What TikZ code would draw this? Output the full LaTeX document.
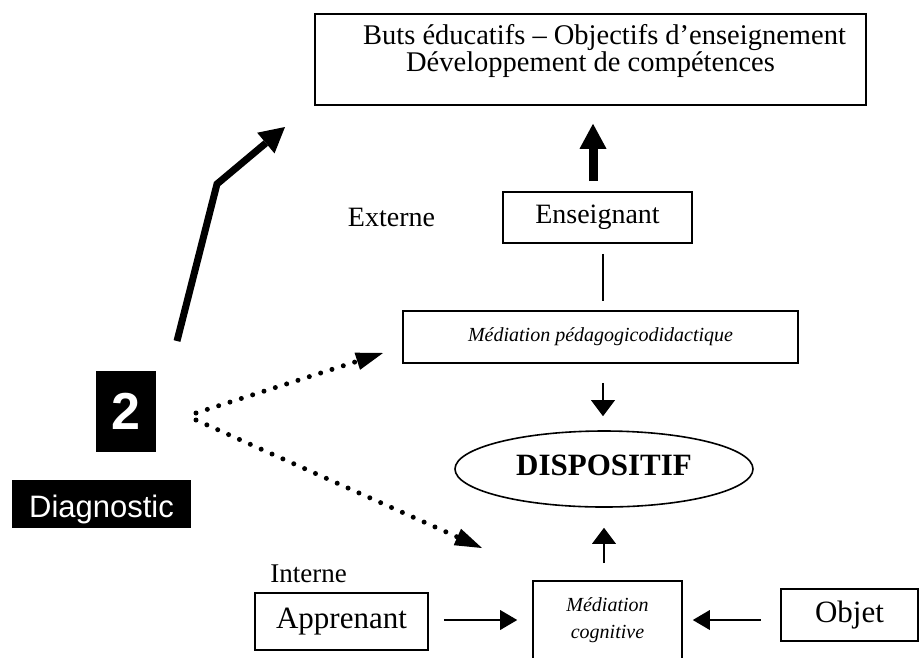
\documentclass[tikz,border=0pt]{standalone}
\usepackage{fontspec}
\setmainfont{Liberation Serif}
\newfontfamily\arialf{Liberation Sans}
\usetikzlibrary{arrows.meta,shapes.geometric,calc}
\begin{document}
\begin{tikzpicture}[x=1pt,y=-1pt,
  box/.style={draw, line width=1.6pt, inner sep=0pt},
  thinline/.style={line width=1.6pt},
  harrow/.style={thinline, -{Triangle[line width=0pt,length=17pt,width=20pt]}},
  varrow/.style={thinline, -{Triangle[line width=0pt,length=16pt,width=24pt]}},
  dotarrow/.style={line width=5pt, line cap=round, dash pattern=on 0pt off 11.9pt,
     -{Triangle[line width=0pt,length=27pt,width=18pt]}},
  bigarrow/.style={line width=7pt, line join=miter,
     -{Triangle[line width=0pt,length=25pt,width=27pt]}},
  uparrow/.style={line width=9pt, -{Triangle[line width=0pt,length=25pt,width=27pt]}},
  blackbox/.style={fill=black, text=white, inner sep=0pt},
  lbl/.style={anchor=base, inner sep=0pt}
]
\useasboundingbox (0,0) rectangle (920,657);

% nodes
\node[box, minimum width=551pt, minimum height=91pt, font=\fontsize{28.5}{27}\selectfont] (top) at (590.5,59.5)
  {\begin{tabular}{@{}c@{}}\hspace*{28pt}Buts éducatifs – Objectifs d’enseignement\\Développement de compétences\\[15pt]\end{tabular}};
\node[box, minimum width=189pt, minimum height=51pt, font=\fontsize{28}{30}\selectfont] (ens) at (597.5,217.5) {Enseignant};
\node[lbl, font=\fontsize{28}{30}\selectfont] (ext) at (391.5,226) {Externe};
\node[box, minimum width=395pt, minimum height=52pt, font=\fontsize{20}{22}\selectfont\itshape] (mpd) at (600.5,337) {Médiation pédagogicodidactique};
\node[draw, ellipse, line width=1.6pt, minimum width=298pt, minimum height=76pt, inner sep=0pt,
  text height=12pt, text depth=0pt, font=\fontsize{31}{34}\selectfont\bfseries] (disp) at (604,469) {DISPOSITIF};
\node[box, minimum width=149pt, minimum height=78pt, align=center, font=\fontsize{20}{27}\selectfont\itshape] (mc) at (607.5,620) {Médiation\\cognitive};
\node[box, minimum width=173pt, minimum height=57pt, font=\fontsize{31}{34}\selectfont] (app) at (341.5,621.5) {Apprenant};
\node[lbl, font=\fontsize{27}{30}\selectfont] (int) at (308.5,582) {Interne};
\node[box, minimum width=137pt, minimum height=52pt, font=\fontsize{31}{34}\selectfont] (obj) at (849.5,615) {Objet};
\node[blackbox, minimum width=60pt, minimum height=81pt, font=\arialf\bfseries\fontsize{52}{56}\selectfont] (two) at (126,411.5) {2};
\node[blackbox, minimum width=179pt, minimum height=48pt, text height=26pt, text depth=0pt,
  font=\arialf\fontsize{31}{34}\selectfont] (diag) at (101.5,504) {Diagnostic};

% free ends
\coordinate (t1) at (177,341);
\coordinate (t2) at (217,184);
\coordinate (t3) at (285,127);
\coordinate (d1a) at (196,413);
\coordinate (d1b) at (383,353);
\coordinate (d2a) at (196,420);
\coordinate (d2b) at (482,548);

% connectors
\draw[bigarrow] (t1) -- (t2) -- (t3);
\draw[dotarrow] (d1a) -- (d1b);
\draw[dotarrow] (d2a) -- (d2b);
\draw[uparrow, shorten <=10pt, shorten >=18pt] ([xshift=-4.5pt]ens.north) -- ([xshift=-4.5pt]ens.north |- top.south);
\draw[thinline, shorten <=10pt, shorten >=9pt] ([xshift=5.5pt]ens.south) -- ([xshift=5.5pt]ens.south |- mpd.north);
\draw[varrow, shorten <=19pt, shorten >=14pt] ([xshift=2.5pt]mpd.south) -- ([xshift=2.5pt]mpd.south |- disp.north);
\draw[varrow, shorten <=17pt, shorten >=20pt] (disp.south |- mc.north) -- (disp.south);
\draw[harrow, shorten <=15pt, shorten >=15pt] (app.east |- mc.west) -- (mc.west);
\draw[harrow, shorten <=19.5pt, shorten >=10pt] (obj.west |- mc.east) -- (mc.east);
\end{tikzpicture}
\end{document}
